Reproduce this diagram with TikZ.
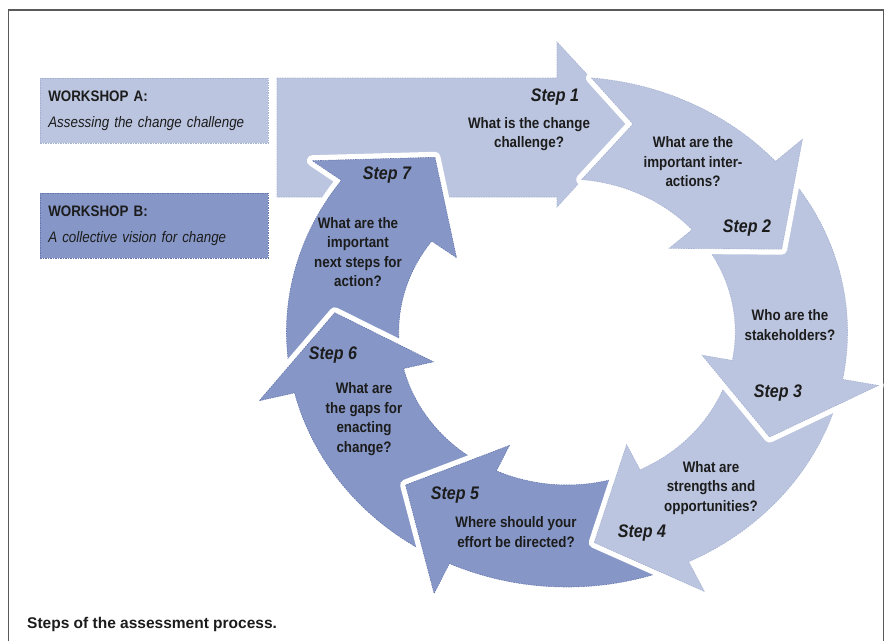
\documentclass[tikz,border=0pt]{standalone}
\usepackage{fontspec}
\setmainfont{Liberation Sans}
\newfontfamily\narrowfont[FakeStretch=0.88]{Liberation Sans}

\definecolor{arrlight}{RGB}{187,197,223}
\definecolor{arrdark}{RGB}{134,151,199}
\definecolor{edgelight}{RGB}{165,177,210}
\definecolor{edgedark}{RGB}{100,118,172}
\definecolor{framegray}{RGB}{90,90,90}
\definecolor{ink}{RGB}{28,28,28}

\begin{document}
\begin{tikzpicture}[x=1pt,y=-1pt,
    lightarr/.style={preaction={draw=white,solid,line width=11pt,line join=round},fill=arrlight,draw=edgelight,dash pattern=on 1.5pt off 1pt,line width=0.6pt},
    darkarr/.style={preaction={draw=white,solid,line width=11pt,line join=round},fill=arrdark,draw=edgedark,dash pattern=on 1.5pt off 1pt,line width=0.6pt},
    wsbox/.style={anchor=north west,minimum width=228pt,minimum height=65pt,text width=212pt,inner xsep=8pt,align=left,text=ink,font=\narrowfont\fontsize{15.2}{26}\selectfont,dash pattern=on 1.5pt off 1pt,line width=0.6pt},
    question/.style={align=center,inner sep=0pt,text=ink,font=\narrowfont\bfseries\fontsize{15.2}{19.5}\selectfont},
    steplabel/.style={inner sep=0pt,text=ink,font=\narrowfont\bfseries\itshape\fontsize{18.2}{20}\selectfont}]
    \useasboundingbox (0,0) rectangle (891,641);
    \draw[framegray,line width=1.2pt] (8.5,641) |- (883.5,10) -- (883.5,641);

    % workshops
    \node[wsbox,fill=arrlight,draw=edgelight] (wsA) at (40,78) {\textbf{WORKSHOP A:}\\\textit{Assessing the change challenge}};
    \node[wsbox,fill=arrdark,draw=edgedark] (wsB) at (40,193) {\textbf{WORKSHOP B:}\\\textit{A collective vision for change}};

    % step 1, straight
    \path[lightarr] (277,78) -- (557,78) -- (557,42) -- (633,124) -- (557,207) -- (557,197) -- (277,197) -- cycle;

    % the ring, steps 7 to 2
    \begin{scope}[shift={(567,332)},xscale=1.1]
        \path[darkarr] (166:255) arc[start angle=166,end angle=216.5,radius=255] -- (216.5:288) -- (235.5:212) -- (216.5:125) -- (216.5:153) arc[start angle=216.5,end angle=166,radius=153] -- cycle;
        \path[darkarr] (114.8:255) arc[start angle=114.8,end angle=166.2,radius=255] -- (166.2:288) -- (185.2:212) -- (166.2:125) -- (166.2:153) arc[start angle=166.2,end angle=114.8,radius=153] -- cycle;
        \path[darkarr] (64.3:255) arc[start angle=64.3,end angle=114.8,radius=255] -- (114.8:288) -- (133.8:212) -- (114.8:125) -- (114.8:153) arc[start angle=114.8,end angle=64.3,radius=153] -- cycle;
        \path[lightarr] (10.7:255) arc[start angle=10.7,end angle=64.3,radius=255] -- (64.3:288) -- (83.3:212) -- (64.3:125) -- (64.3:153) arc[start angle=64.3,end angle=10.7,radius=153] -- cycle;
        \path[lightarr] (-42:255) arc[start angle=-42,end angle=10.7,radius=255] -- (10.7:288) -- (29.7:212) -- (10.7:125) -- (10.7:153) arc[start angle=10.7,end angle=-42,radius=153] -- cycle;
        \path[lightarr] (-85:255) arc[start angle=-85,end angle=-42,radius=255] -- (-42:288) -- (-23:212) -- (-42:125) -- (-42:153) arc[start angle=-42,end angle=-85,radius=153] -- (60,-208) -- cycle;
    \end{scope}

    % labels
    \node[steplabel] (s1) at (555,97) {Step 1};
    \node[question] (q1) at (529,134) {What is the change\\challenge?};
    \node[steplabel] (s2) at (747,228) {Step 2};
    \node[question] (q2) at (693,162) {What are the\\important inter-\\actions?};
    \node[steplabel] (s3) at (778,393) {Step 3};
    \node[question] (q3) at (790,325) {Who are the\\stakeholders?};
    \node[steplabel] (s4) at (642,533) {Step 4};
    \node[question] (q4) at (711,488) {What are\\strengths and\\opportunities?};
    \node[steplabel] (s5) at (455,495) {Step 5};
    \node[question] (q5) at (516,532) {Where should your\\effort be directed?};
    \node[steplabel] (s6) at (333,355) {Step 6};
    \node[question] (q6) at (364,419) {What are\\the gaps for\\enacting\\change?};
    \node[steplabel] (s7) at (387,175) {Step 7};
    \node[question] (q7) at (358,252) {What are the\\important\\next steps for\\action?};

    \node[anchor=west,inner sep=0pt,text=ink,font=\bfseries\fontsize{15.5}{18}\selectfont] (caption) at (27,624) {Steps of the assessment process.};
\end{tikzpicture}
\end{document}
